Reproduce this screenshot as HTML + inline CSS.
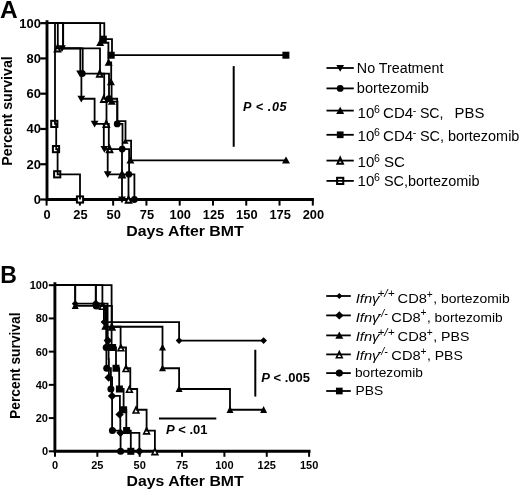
<!DOCTYPE html>
<html><head><meta charset="utf-8"><title>Survival</title>
<style>html,body{margin:0;padding:0;background:#fff;}svg{display:block;opacity:0.999;will-change:transform;}text{font-family:"Liberation Sans",sans-serif;fill:#000;}.b{font-weight:bold;}.i{font-style:italic;}</style></head><body>
<svg width="520" height="491" viewBox="0 0 520 491">
<rect width="520" height="491" fill="#fff"/>
<text x="0.0" y="17.6" class="b" font-size="24.5">A</text>
<text x="0.3" y="282.8" class="b" font-size="23">B</text>
<path d="M47.0 20.15V199.5H313.9" fill="none" stroke="#000" stroke-width="2.9" stroke-linejoin="miter"/>
<path d="M40.2 199.50H47.0" stroke="#000" stroke-width="2.2"/>
<text x="33.79" y="203.90" class="b" font-size="12" textLength="7.21" lengthAdjust="spacingAndGlyphs">0</text>
<path d="M40.2 164.23H47.0" stroke="#000" stroke-width="2.2"/>
<text x="26.58" y="168.63" class="b" font-size="12" textLength="14.42" lengthAdjust="spacingAndGlyphs">20</text>
<path d="M40.2 128.96H47.0" stroke="#000" stroke-width="2.2"/>
<text x="26.58" y="133.36" class="b" font-size="12" textLength="14.42" lengthAdjust="spacingAndGlyphs">40</text>
<path d="M40.2 93.69H47.0" stroke="#000" stroke-width="2.2"/>
<text x="26.58" y="98.09" class="b" font-size="12" textLength="14.42" lengthAdjust="spacingAndGlyphs">60</text>
<path d="M40.2 58.42H47.0" stroke="#000" stroke-width="2.2"/>
<text x="26.58" y="62.82" class="b" font-size="12" textLength="14.42" lengthAdjust="spacingAndGlyphs">80</text>
<path d="M40.2 23.15H47.0" stroke="#000" stroke-width="2.2"/>
<text x="19.38" y="27.55" class="b" font-size="12" textLength="21.62" lengthAdjust="spacingAndGlyphs">100</text>
<path d="M46.60 199.5V205.6" stroke="#000" stroke-width="2"/>
<text x="43.63" y="218.7" class="b" font-size="12" textLength="7.14" lengthAdjust="spacingAndGlyphs">0</text>
<path d="M79.88 199.5V205.6" stroke="#000" stroke-width="2"/>
<text x="73.33" y="218.7" class="b" font-size="12" textLength="14.28" lengthAdjust="spacingAndGlyphs">25</text>
<path d="M113.15 199.5V205.6" stroke="#000" stroke-width="2"/>
<text x="106.61" y="218.7" class="b" font-size="12" textLength="14.28" lengthAdjust="spacingAndGlyphs">50</text>
<path d="M146.43 199.5V205.6" stroke="#000" stroke-width="2"/>
<text x="139.88" y="218.7" class="b" font-size="12" textLength="14.28" lengthAdjust="spacingAndGlyphs">75</text>
<path d="M179.70 199.5V205.6" stroke="#000" stroke-width="2"/>
<text x="169.59" y="218.7" class="b" font-size="12" textLength="21.42" lengthAdjust="spacingAndGlyphs">100</text>
<path d="M212.97 199.5V205.6" stroke="#000" stroke-width="2"/>
<text x="202.86" y="218.7" class="b" font-size="12" textLength="21.42" lengthAdjust="spacingAndGlyphs">125</text>
<path d="M246.25 199.5V205.6" stroke="#000" stroke-width="2"/>
<text x="236.14" y="218.7" class="b" font-size="12" textLength="21.42" lengthAdjust="spacingAndGlyphs">150</text>
<path d="M279.52 199.5V205.6" stroke="#000" stroke-width="2"/>
<text x="269.41" y="218.7" class="b" font-size="12" textLength="21.42" lengthAdjust="spacingAndGlyphs">175</text>
<path d="M312.80 199.5V205.6" stroke="#000" stroke-width="2"/>
<text x="302.69" y="218.7" class="b" font-size="12" textLength="21.42" lengthAdjust="spacingAndGlyphs">200</text>
<text x="126.3" y="236.2" class="b" font-size="15" textLength="117.4" lengthAdjust="spacingAndGlyphs">Days After BMT</text>
<text transform="translate(12.0 111) rotate(-90)" class="b" font-size="14.5" textLength="109.4" lengthAdjust="spacingAndGlyphs" text-anchor="middle">Percent survival</text>
<path d="M54.9 282.2V451.3H310.5" fill="none" stroke="#000" stroke-width="2.9" stroke-linejoin="miter"/>
<path d="M48.8 451.30H54.9" stroke="#000" stroke-width="2"/>
<text x="48" y="455.30" class="b" font-size="11" text-anchor="end">0</text>
<path d="M48.8 418.08H54.9" stroke="#000" stroke-width="2"/>
<text x="48" y="422.08" class="b" font-size="11" text-anchor="end">20</text>
<path d="M48.8 384.86H54.9" stroke="#000" stroke-width="2"/>
<text x="48" y="388.86" class="b" font-size="11" text-anchor="end">40</text>
<path d="M48.8 351.64H54.9" stroke="#000" stroke-width="2"/>
<text x="48" y="355.64" class="b" font-size="11" text-anchor="end">60</text>
<path d="M48.8 318.42H54.9" stroke="#000" stroke-width="2"/>
<text x="48" y="322.42" class="b" font-size="11" text-anchor="end">80</text>
<path d="M48.8 285.20H54.9" stroke="#000" stroke-width="2"/>
<text x="48" y="289.20" class="b" font-size="11" text-anchor="end">100</text>
<path d="M55.00 451.3V456.8" stroke="#000" stroke-width="2"/>
<text x="55.00" y="469.2" class="b" font-size="11" text-anchor="middle">0</text>
<path d="M97.35 451.3V456.8" stroke="#000" stroke-width="2"/>
<text x="97.35" y="469.2" class="b" font-size="11" text-anchor="middle">25</text>
<path d="M139.70 451.3V456.8" stroke="#000" stroke-width="2"/>
<text x="139.70" y="469.2" class="b" font-size="11" text-anchor="middle">50</text>
<path d="M182.05 451.3V456.8" stroke="#000" stroke-width="2"/>
<text x="182.05" y="469.2" class="b" font-size="11" text-anchor="middle">75</text>
<path d="M224.40 451.3V456.8" stroke="#000" stroke-width="2"/>
<text x="224.40" y="469.2" class="b" font-size="11" text-anchor="middle">100</text>
<path d="M266.75 451.3V456.8" stroke="#000" stroke-width="2"/>
<text x="266.75" y="469.2" class="b" font-size="11" text-anchor="middle">125</text>
<path d="M309.10 451.3V456.8" stroke="#000" stroke-width="2"/>
<text x="309.10" y="469.2" class="b" font-size="11" text-anchor="middle">150</text>
<text x="126.6" y="486.2" class="b" font-size="15" textLength="117" lengthAdjust="spacingAndGlyphs">Days After BMT</text>
<text transform="translate(19.7 365.7) rotate(-90)" class="b" font-size="14" textLength="106.4" lengthAdjust="spacingAndGlyphs" text-anchor="middle">Percent survival</text>
<rect x="51.20" y="120.82" width="6.2" height="6.2" fill="#fff" stroke="#000" stroke-width="2.0"/>
<rect x="52.90" y="146.01" width="6.2" height="6.2" fill="#fff" stroke="#000" stroke-width="2.0"/>
<rect x="54.10" y="171.21" width="6.2" height="6.2" fill="#fff" stroke="#000" stroke-width="2.0"/>
<rect x="76.90" y="196.40" width="6.2" height="6.2" fill="#fff" stroke="#000" stroke-width="2.0"/>
<path d="M47.00 23.15H55.00V123.92H56.20V149.11H57.60V174.31H80.00V199.50" fill="none" stroke="#000" stroke-width="1.8" stroke-linejoin="miter"/>
<path d="M54.70 51.54H60.30L57.50 45.34Z" fill="#fff" stroke="#000" stroke-width="1.9" stroke-linejoin="miter"/>
<path d="M96.90 76.74H102.50L99.70 70.54Z" fill="#fff" stroke="#000" stroke-width="1.9" stroke-linejoin="miter"/>
<path d="M101.00 101.93H106.60L103.80 95.73Z" fill="#fff" stroke="#000" stroke-width="1.9" stroke-linejoin="miter"/>
<path d="M103.50 127.12H109.10L106.30 120.92Z" fill="#fff" stroke="#000" stroke-width="1.9" stroke-linejoin="miter"/>
<path d="M106.80 152.31H112.40L109.60 146.11Z" fill="#fff" stroke="#000" stroke-width="1.9" stroke-linejoin="miter"/>
<path d="M119.20 177.51H124.80L122.00 171.31Z" fill="#fff" stroke="#000" stroke-width="1.9" stroke-linejoin="miter"/>
<path d="M125.70 202.70H131.30L128.50 196.50Z" fill="#fff" stroke="#000" stroke-width="1.9" stroke-linejoin="miter"/>
<path d="M47.00 23.15H57.80V48.34H100.00V73.54H104.20V98.73H106.50V123.92H108.80V149.11H122.00V174.31H128.50V199.50" fill="none" stroke="#000" stroke-width="1.8" stroke-linejoin="miter"/>
<path d="M47.00 23.15H104.30V39.18H112.00V55.21H285.90" fill="none" stroke="#000" stroke-width="1.8" stroke-linejoin="miter"/>
<rect x="99.80" y="35.68" width="7.0" height="7.0" fill="#000"/>
<rect x="107.70" y="51.71" width="7.0" height="7.0" fill="#000"/>
<rect x="282.40" y="51.71" width="7.0" height="7.0" fill="#000"/>
<path d="M47.00 23.15H100.20V42.74H108.40V62.34H111.20V81.93H111.60V101.53H117.40V121.12H125.50V140.72H131.10V160.31H286.00" fill="none" stroke="#000" stroke-width="1.8" stroke-linejoin="miter"/>
<path d="M96.20 46.04H104.20L100.20 38.84Z" fill="#000"/>
<path d="M104.60 65.64H112.60L108.60 58.44Z" fill="#000"/>
<path d="M106.90 85.23H114.90L110.90 78.03Z" fill="#000"/>
<path d="M107.80 104.83H115.80L111.80 97.63Z" fill="#000"/>
<path d="M126.40 163.61H134.40L130.40 156.41Z" fill="#000"/>
<path d="M282.00 163.61H290.00L286.00 156.41Z" fill="#000"/>
<path d="M47.00 23.15H63.20V48.34H82.70V73.54H109.00V98.73H117.20V123.92H122.50V149.11H129.10V174.31H134.40V199.50" fill="none" stroke="#000" stroke-width="1.8" stroke-linejoin="miter"/>
<circle cx="82.30" cy="73.54" r="3.40" fill="#000"/>
<circle cx="109.00" cy="98.73" r="3.40" fill="#000"/>
<circle cx="117.20" cy="123.92" r="3.40" fill="#000"/>
<circle cx="122.20" cy="149.11" r="3.40" fill="#000"/>
<circle cx="128.80" cy="174.31" r="3.40" fill="#000"/>
<circle cx="134.40" cy="199.50" r="3.40" fill="#000"/>
<path d="M47.00 23.15H63.00V48.34H80.30V73.54H81.40V98.73H94.60V123.92H103.80V149.11H107.70V174.31H122.00V199.50" fill="none" stroke="#000" stroke-width="1.8" stroke-linejoin="miter"/>
<path d="M58.10 45.24H65.90L62.00 52.04Z" fill="#000"/>
<path d="M76.20 70.44H84.00L80.10 77.24Z" fill="#000"/>
<path d="M77.40 95.63H85.20L81.30 102.43Z" fill="#000"/>
<path d="M90.70 120.82H98.50L94.60 127.62Z" fill="#000"/>
<path d="M100.50 146.01H108.30L104.40 152.81Z" fill="#000"/>
<path d="M103.80 171.21H111.60L107.70 178.01Z" fill="#000"/>
<path d="M118.10 196.40H125.90L122.00 203.20Z" fill="#000"/>
<path d="M54.90 285.20H111.60V347.49H116.00V368.25H119.20V389.01H123.60V409.77H126.30V430.54H130.80V451.30" fill="none" stroke="#000" stroke-width="1.8" stroke-linejoin="miter"/>
<rect x="109.10" y="343.99" width="7.0" height="7.0" fill="#000"/>
<rect x="112.50" y="364.75" width="7.0" height="7.0" fill="#000"/>
<rect x="115.90" y="385.51" width="7.0" height="7.0" fill="#000"/>
<rect x="120.10" y="406.27" width="7.0" height="7.0" fill="#000"/>
<rect x="123.10" y="427.04" width="7.0" height="7.0" fill="#000"/>
<rect x="127.30" y="447.80" width="7.0" height="7.0" fill="#000"/>
<path d="M54.90 285.20H95.80V305.96H106.20V326.73H106.20V347.49H106.40V368.25H110.90V389.01H112.10V430.54H120.60V451.30" fill="none" stroke="#000" stroke-width="1.8" stroke-linejoin="miter"/>
<circle cx="96.30" cy="305.96" r="3.50" fill="#000"/>
<circle cx="106.20" cy="347.49" r="3.50" fill="#000"/>
<circle cx="106.70" cy="368.25" r="3.50" fill="#000"/>
<circle cx="110.90" cy="389.01" r="3.50" fill="#000"/>
<circle cx="112.40" cy="430.54" r="3.50" fill="#000"/>
<circle cx="120.60" cy="451.30" r="3.50" fill="#000"/>
<path d="M99.50 309.26H105.30L102.40 303.26Z" fill="#fff" stroke="#000" stroke-width="1.6" stroke-linejoin="miter"/>
<path d="M109.00 330.03H114.80L111.90 324.03Z" fill="#fff" stroke="#000" stroke-width="1.6" stroke-linejoin="miter"/>
<path d="M118.00 350.79H123.80L120.90 344.79Z" fill="#fff" stroke="#000" stroke-width="1.6" stroke-linejoin="miter"/>
<path d="M123.10 371.55H128.90L126.00 365.55Z" fill="#fff" stroke="#000" stroke-width="1.6" stroke-linejoin="miter"/>
<path d="M126.50 392.31H132.30L129.40 386.31Z" fill="#fff" stroke="#000" stroke-width="1.6" stroke-linejoin="miter"/>
<path d="M133.10 413.07H138.90L136.00 407.07Z" fill="#fff" stroke="#000" stroke-width="1.6" stroke-linejoin="miter"/>
<path d="M143.70 433.84H149.50L146.60 427.84Z" fill="#fff" stroke="#000" stroke-width="1.6" stroke-linejoin="miter"/>
<path d="M152.00 454.60H157.80L154.90 448.60Z" fill="#fff" stroke="#000" stroke-width="1.6" stroke-linejoin="miter"/>
<path d="M54.90 285.20H102.40V305.96H111.90V326.73H120.60V347.49H126.00V368.25H130.30V389.01H137.20V409.77H146.60V430.54H154.90V451.30" fill="none" stroke="#000" stroke-width="1.8" stroke-linejoin="miter"/>
<path d="M54.90 285.20H75.20V305.96H105.20V326.73H162.50V347.49H162.50V368.25H179.10V389.01H230.00V409.77H263.60" fill="none" stroke="#000" stroke-width="1.8" stroke-linejoin="miter"/>
<path d="M71.70 309.06H78.70L75.20 302.26Z" fill="#000"/>
<path d="M101.30 329.83H108.30L104.80 323.02Z" fill="#000"/>
<path d="M159.00 350.59H166.00L162.50 343.79Z" fill="#000"/>
<path d="M159.00 371.35H166.00L162.50 364.55Z" fill="#000"/>
<path d="M175.60 392.11H182.60L179.10 385.31Z" fill="#000"/>
<path d="M226.50 412.88H233.50L230.00 406.07Z" fill="#000"/>
<path d="M260.10 412.88H267.10L263.60 406.07Z" fill="#000"/>
<path d="M54.90 285.20H95.80V303.66H107.60V322.11H107.70V340.57H108.60V359.02H108.90V377.48H112.10V395.93H119.90V414.39H120.30V432.84H139.40V451.30" fill="none" stroke="#000" stroke-width="1.8" stroke-linejoin="miter"/>
<path d="M91.60 303.66L95.80 299.46L100.00 303.66L95.80 307.86Z" fill="#000"/>
<path d="M103.60 340.57L107.80 336.37L112.00 340.57L107.80 344.77Z" fill="#000"/>
<path d="M104.50 377.48L108.70 373.28L112.90 377.48L108.70 381.68Z" fill="#000"/>
<path d="M107.90 395.93L112.10 391.73L116.30 395.93L112.10 400.13Z" fill="#000"/>
<path d="M115.40 414.39L119.60 410.19L123.80 414.39L119.60 418.59Z" fill="#000"/>
<path d="M116.30 432.84L120.50 428.64L124.70 432.84L120.50 437.04Z" fill="#000"/>
<path d="M135.20 451.30L139.40 447.10L143.60 451.30L139.40 455.50Z" fill="#000"/>
<path d="M54.90 285.20H75.20V303.66H103.90V322.11H179.10V340.57H263.60" fill="none" stroke="#000" stroke-width="1.8" stroke-linejoin="miter"/>
<path d="M71.80 303.66L75.20 300.26L78.60 303.66L75.20 307.06Z" fill="#000"/>
<path d="M100.60 322.11L104.00 318.71L107.40 322.11L104.00 325.51Z" fill="#000"/>
<path d="M175.70 340.57L179.10 337.17L182.50 340.57L179.10 343.97Z" fill="#000"/>
<path d="M260.20 340.57L263.60 337.17L267.00 340.57L263.60 343.97Z" fill="#000"/>
<path d="M122.00 143.80H128.60L125.30 138.80Z" fill="#000"/>
<path d="M107.90 329.80H115.50L111.70 322.80Z" fill="#000"/>
<path d="M233.7 66.1V146.8" stroke="#000" stroke-width="2"/>
<text x="243.0" y="110.8" class="b i" font-size="12.6" textLength="43.6" lengthAdjust="spacing">P &lt; .05</text>
<path d="M255.3 349.8V396.6" stroke="#000" stroke-width="2"/>
<text x="261.2" y="381.7" class="b" font-size="13"><tspan class="i">P</tspan> &lt; .005</text>
<path d="M159 418.4H216.3" stroke="#000" stroke-width="2"/>
<text x="166" y="433.6" class="b" font-size="13"><tspan class="i">P</tspan> &lt; .01</text>
<path d="M336.30 64.90H344.10L340.20 71.70Z" fill="#000"/>
<path d="M326.5 68.0H353.8" stroke="#000" stroke-width="1.8"/>
<circle cx="340.20" cy="88.40" r="3.40" fill="#000"/>
<path d="M326.5 88.4H353.8" stroke="#000" stroke-width="1.8"/>
<path d="M336.20 113.90H344.20L340.20 106.70Z" fill="#000"/>
<path d="M326.5 110.6H353.8" stroke="#000" stroke-width="1.8"/>
<rect x="336.85" y="131.45" width="6.7" height="6.7" fill="#000"/>
<path d="M326.5 134.8H353.8" stroke="#000" stroke-width="1.8"/>
<path d="M337.40 163.80H343.00L340.20 157.60Z" fill="#fff" stroke="#000" stroke-width="1.9" stroke-linejoin="miter"/>
<path d="M326.5 160.6H353.8" stroke="#000" stroke-width="1.8"/>
<rect x="337.10" y="177.80" width="6.2" height="6.2" fill="#fff" stroke="#000" stroke-width="2.0"/>
<path d="M326.5 180.9H353.8" stroke="#000" stroke-width="1.8"/>
<text x="356.82" y="72.7" font-size="14" textLength="86.56" lengthAdjust="spacingAndGlyphs">No Treatment</text>
<text x="356.82" y="92.5" font-size="14" textLength="72.16" lengthAdjust="spacingAndGlyphs">bortezomib</text>
<text x="357.62" y="118.4" font-size="14" textLength="16.76" lengthAdjust="spacingAndGlyphs">10</text><text x="373.90" y="113.2" font-size="10.6">6</text>
<text x="383.02" y="118.4" font-size="14" textLength="30.16" lengthAdjust="spacingAndGlyphs">CD4</text><text x="412.70" y="113.5" font-size="10.6">-</text><text x="419.92" y="118.4" font-size="14" textLength="23.66" lengthAdjust="spacingAndGlyphs">SC,</text><text x="454.62" y="118.4" font-size="14" textLength="29.76" lengthAdjust="spacingAndGlyphs">PBS</text>
<text x="357.62" y="140.9" font-size="14" textLength="16.76" lengthAdjust="spacingAndGlyphs">10</text><text x="373.90" y="135.70000000000002" font-size="10.6">6</text>
<text x="383.02" y="140.9" font-size="14" textLength="30.16" lengthAdjust="spacingAndGlyphs">CD4</text><text x="412.70" y="136.0" font-size="10.6">-</text><text x="419.92" y="140.9" font-size="14" textLength="99.46" lengthAdjust="spacingAndGlyphs">SC, bortezomib</text>
<text x="357.62" y="167.0" font-size="14" textLength="16.76" lengthAdjust="spacingAndGlyphs">10</text><text x="373.90" y="161.8" font-size="10.6">6</text>
<text x="383.92" y="167.0" font-size="14" textLength="20.96" lengthAdjust="spacingAndGlyphs">SC</text>
<text x="357.62" y="186.4" font-size="14" textLength="16.76" lengthAdjust="spacingAndGlyphs">10</text><text x="373.90" y="181.20000000000002" font-size="10.6">6</text>
<text x="383.92" y="186.4" font-size="14" textLength="95.56" lengthAdjust="spacingAndGlyphs">SC,bortezomib</text>
<path d="M336.20 296.00L339.30 292.90L342.40 296.00L339.30 299.10Z" fill="#000"/>
<path d="M326.2 296.0H350.8" stroke="#000" stroke-width="1.8"/>
<path d="M335.10 315.40L339.30 311.20L343.50 315.40L339.30 319.60Z" fill="#000"/>
<path d="M326.2 315.4H350.8" stroke="#000" stroke-width="1.8"/>
<path d="M335.30 338.70H343.30L339.30 331.50Z" fill="#000"/>
<path d="M326.2 335.4H350.8" stroke="#000" stroke-width="1.8"/>
<path d="M336.40 357.70H342.20L339.30 351.70Z" fill="#fff" stroke="#000" stroke-width="1.6" stroke-linejoin="miter"/>
<path d="M326.2 354.4H350.8" stroke="#000" stroke-width="1.8"/>
<circle cx="339.30" cy="373.10" r="3.55" fill="#000"/>
<path d="M326.2 373.1H350.8" stroke="#000" stroke-width="1.8"/>
<rect x="335.95" y="387.65" width="6.7" height="6.7" fill="#000"/>
<path d="M326.2 391.0H350.8" stroke="#000" stroke-width="1.8"/>
<text x="355.69" y="302.8" font-size="13" class="i" textLength="23.82" lengthAdjust="spacingAndGlyphs">Ifn&#947;</text><text x="377.47" y="297.2" font-size="10.4" class="i" textLength="17.06" lengthAdjust="spacingAndGlyphs">+/+</text><text x="397.59" y="302.8" font-size="13" textLength="29.42" lengthAdjust="spacingAndGlyphs">CD8</text><text x="426.70" y="297.6" font-size="10.2">+</text><text x="433.19" y="302.8" font-size="13" textLength="76.52" lengthAdjust="spacingAndGlyphs">, bortezomib</text>
<text x="355.69" y="321.6" font-size="13" class="i" textLength="23.82" lengthAdjust="spacingAndGlyphs">Ifn&#947;</text><text x="377.77" y="316.6" font-size="10.4" class="i" textLength="10.06" lengthAdjust="spacingAndGlyphs">-/-</text><text x="391.39" y="321.6" font-size="13" textLength="29.42" lengthAdjust="spacingAndGlyphs">CD8</text><text x="420.50" y="316.40000000000003" font-size="10.2">+</text><text x="426.99" y="321.6" font-size="13" textLength="75.62" lengthAdjust="spacingAndGlyphs">, bortezomib</text>
<text x="355.69" y="341.3" font-size="13" class="i" textLength="23.82" lengthAdjust="spacingAndGlyphs">Ifn&#947;</text><text x="377.47" y="335.7" font-size="10.4" class="i" textLength="17.06" lengthAdjust="spacingAndGlyphs">+/+</text><text x="397.59" y="341.3" font-size="13" textLength="29.42" lengthAdjust="spacingAndGlyphs">CD8</text><text x="426.70" y="336.1" font-size="10.2">+</text><text x="433.19" y="341.3" font-size="13" textLength="36.22" lengthAdjust="spacingAndGlyphs">, PBS</text>
<text x="355.69" y="360.4" font-size="13" class="i" textLength="23.82" lengthAdjust="spacingAndGlyphs">Ifn&#947;</text><text x="377.77" y="355.4" font-size="10.4" class="i" textLength="10.06" lengthAdjust="spacingAndGlyphs">-/-</text><text x="391.39" y="360.4" font-size="13" textLength="29.42" lengthAdjust="spacingAndGlyphs">CD8</text><text x="420.50" y="355.2" font-size="10.2">+</text><text x="426.99" y="360.4" font-size="13" textLength="35.82" lengthAdjust="spacingAndGlyphs">, PBS</text>
<text x="354.99" y="377.1" font-size="13" textLength="67.92" lengthAdjust="spacingAndGlyphs">bortezomib</text>
<text x="355.49" y="394.8" font-size="13" textLength="27.62" lengthAdjust="spacingAndGlyphs">PBS</text>
</svg></body></html>
